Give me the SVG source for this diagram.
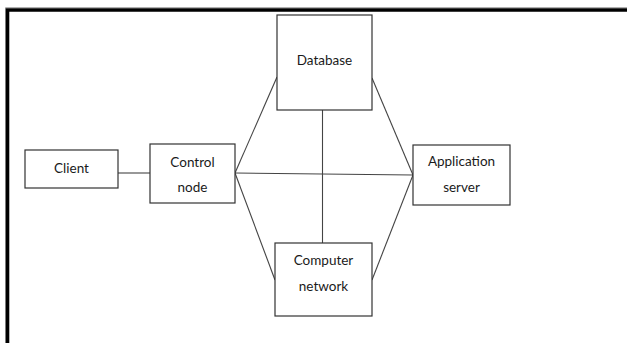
<svg xmlns="http://www.w3.org/2000/svg" width="627" height="343" viewBox="0 0 627 343">
<style>
.box{fill:#fff;stroke:#333;stroke-width:1.2}
.t{font-family:Lato,"Liberation Sans",sans-serif;font-size:13.5px;fill:#1a1a1a;text-anchor:middle}
.c{stroke:#444;stroke-width:1.1;fill:none}
</style>
<rect width="627" height="343" fill="#fff"/>
<g id="frame">
<path d="M5.5 343 V7.5 H627" fill="none" stroke="#b0b0b0" stroke-width="1"/>
<path d="M7.5 343 V10 H627" fill="none" stroke="#000" stroke-width="3.6"/>
</g>
<g id="connectors">
<line class="c" x1="118" y1="173" x2="150" y2="173"/>
<line class="c" x1="235" y1="173" x2="413" y2="175"/>
<line class="c" x1="235" y1="173" x2="277" y2="77"/>
<line class="c" x1="235" y1="173" x2="275" y2="280"/>
<line class="c" x1="372" y1="78" x2="413" y2="175"/>
<line class="c" x1="372" y1="280" x2="413" y2="175"/>
<line class="c" x1="322.5" y1="110" x2="322.5" y2="243"/>
</g>
<g id="client">
<rect class="box" x="25" y="150" width="93" height="38"/>
<text class="t" x="71.5" y="173">Client</text>
</g>
<g id="control">
<rect class="box" x="150" y="144" width="85" height="59"/>
<text class="t" x="192.5" y="167">Control</text>
<text class="t" x="192.5" y="192">node</text>
</g>
<g id="database">
<rect class="box" x="277" y="15" width="95" height="95"/>
<text class="t" x="324.5" y="65">Database</text>
</g>
<g id="appserver">
<rect class="box" x="413" y="145" width="97" height="60"/>
<text class="t" x="461.5" y="166">Application</text>
<text class="t" x="461.5" y="192">server</text>
</g>
<g id="network">
<rect class="box" x="275" y="243" width="97" height="73"/>
<text class="t" x="323.5" y="265">Computer</text>
<text class="t" x="323.5" y="291">network</text>
</g>
</svg>
